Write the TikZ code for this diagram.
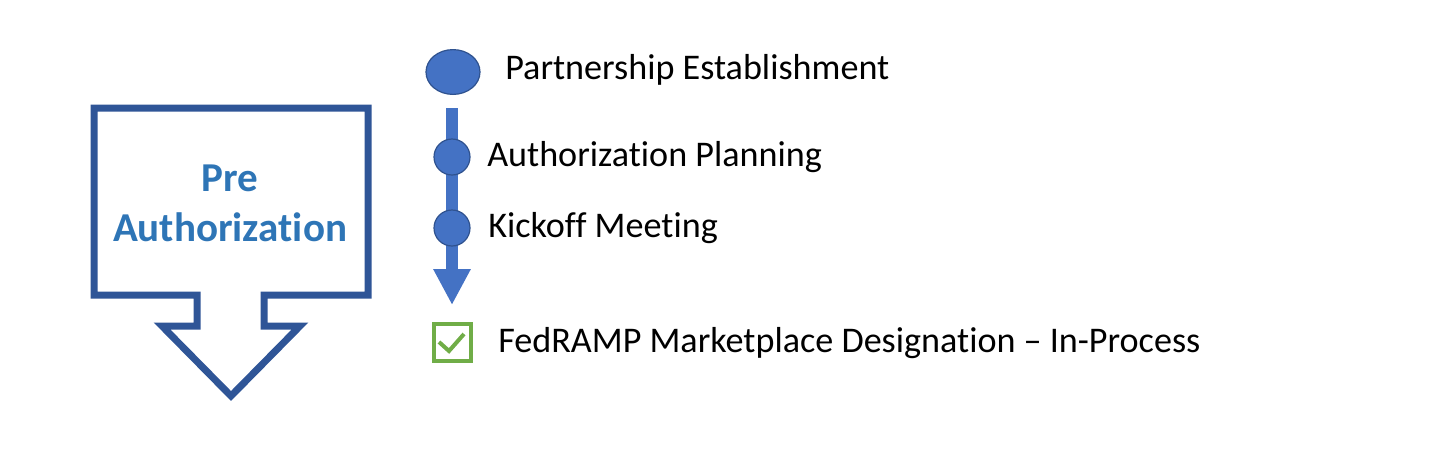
\documentclass[tikz,border=0pt]{standalone}
\usepackage{fontspec}
\setmainfont{Carlito}[Ligatures={TeX,NoCommon}]
\usetikzlibrary{arrows.meta, positioning, shapes.geometric}

\definecolor{phaseblue}{HTML}{2F5597}
\definecolor{phasetext}{HTML}{2E75B6}
\definecolor{stepfill}{HTML}{4472C4}
\definecolor{stepline}{HTML}{2F528F}
\definecolor{donegreen}{HTML}{70AD47}

\begin{document}
\begin{tikzpicture}[x=0.25mm, y=-0.25mm,
    stepdot/.style={circle, fill=stepfill, draw=stepline, line width=0.3mm, inner sep=0pt, minimum size=9mm},
    steplabel/.style={anchor=base west, inner sep=0pt, font=\fontsize{25.7}{30}\selectfont}]
                \useasboundingbox (0,0) rectangle (1456,452);

                % Phase arrow
                \draw[phaseblue, line width=1.75mm, miter limit=10]
                    (94,108) -- (368,108) -- (368,295) -- (264,295) -- (264,326) -- (300,326)
                    -- (231,396) -- (162,326) -- (197,326) -- (197,295) -- (94,295) -- cycle;
                \node[phasetext, align=center, inner sep=0pt, font=\fontsize{29.2}{35.6}\selectfont\bfseries]
                    (phase) at (230,203) {Pre\\Authorization};

                % Timeline
                \coordinate (linetop) at (452,108);
                \coordinate (lineend) at (452,305);
                \draw[stepfill, line width=3mm, -{Triangle[width=8.75mm, length=9mm]}] (linetop) -- (lineend);

                \node[stepdot, ellipse, minimum width=13.5mm, minimum height=11.2mm] (partner) at (453,72) {};
                \node[stepdot] (planning) at (452,157) {};
                \node[stepdot] (kickoff) at (452,228) {};

                % Step labels
                \node[steplabel] (partnerlbl) at (505,79) {Partnership Establishment};
                \node[steplabel] (planninglbl) at (487,166) {Authorization Planning};
                \node[steplabel] (kickofflbl) at (488,237) {Kickoff Meeting};

                % Marketplace designation
                \node[draw=donegreen, line width=1mm, minimum size=9.25mm, inner sep=0pt] (check) at (452,342) {};
                \draw[donegreen, line width=1mm] (439,342) -- (449,351) -- (464,334);
                \node[steplabel] (designlbl) at (498,352) {FedRAMP Marketplace Designation -- In-Process};
            \end{tikzpicture}
\end{document}
